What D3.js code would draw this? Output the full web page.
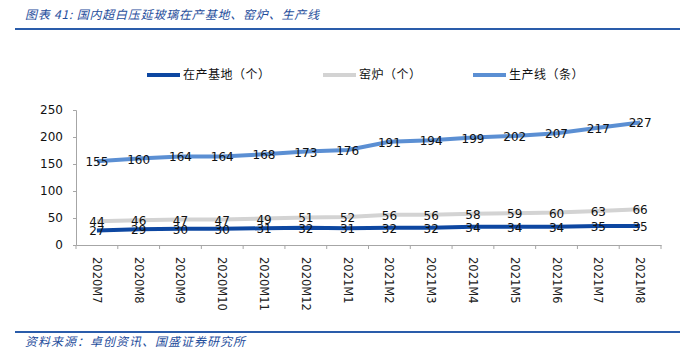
<!DOCTYPE html>
<html>
<head>
<meta charset="utf-8">
<script src="https://cdn.jsdelivr.net/npm/d3@7/dist/d3.min.js"></script>
<style>
  body { margin: 0; background: #fff; }
  text { font-family: "DejaVu Sans", Verdana, sans-serif; }
  .cjk { font-family: "Noto Sans CJK SC", sans-serif; }
</style>
</head>
<body>
<div id="chart"></div>
<script>
'use strict';

const months = ["2020M7", "2020M8", "2020M9", "2020M10", "2020M11", "2020M12",
    "2021M1", "2021M2", "2021M3", "2021M4", "2021M5", "2021M6", "2021M7", "2021M8"];
const bases = [27, 29, 30, 30, 31, 32, 31, 32, 32, 34, 34, 34, 35, 35];
const kilns = [44, 46, 47, 47, 49, 51, 52, 56, 56, 58, 59, 60, 63, 66];
const lines = [155, 160, 164, 164, 168, 173, 176, 191, 194, 199, 202, 207, 217, 227];
const yTicks = [0, 50, 100, 150, 200, 250];

const series = [
    { name: "在产基地（个）", values: bases, color: "#0d47a1" },
    { name: "窑炉（个）", values: kilns, color: "#d3d3d3" },
    { name: "生产线（条）", values: lines, color: "#5b8fd3" }
];

const width = 690;
const height = 364;
const margin = { top: 110, bottom: 119, left: 76, right: 29 };

const svg = d3.select("#chart")
    .append("svg")
    .attr("width", width)
    .attr("height", height);

// title + rules
svg.append("text")
    .attr("class", "cjk")
    .attr("x", 25)
    .attr("y", 19)
    .attr("font-size", 12)
    .attr("font-style", "italic")
    .attr("letter-spacing", 0.8)
    .attr("fill", "#1f4e9c")
    .text("图表 41:  国内超白压延玻璃在产基地、窑炉、生产线");

svg.append("line")
    .attr("x1", 15).attr("x2", 680)
    .attr("y1", 29).attr("y2", 29)
    .attr("stroke", "#2a5caa")
    .attr("stroke-width", 2);

svg.append("line")
    .attr("x1", 15).attr("x2", 680)
    .attr("y1", 332).attr("y2", 332)
    .attr("stroke", "#2a5caa")
    .attr("stroke-width", 2);

svg.append("text")
    .attr("class", "cjk")
    .attr("x", 25)
    .attr("y", 346)
    .attr("font-size", 12)
    .attr("font-style", "italic")
    .attr("letter-spacing", 1)
    .attr("fill", "#1f4e9c")
    .text("资料来源：卓创资讯、国盛证券研究所");

const xScale = d3.scaleBand()
    .domain(months)
    .range([margin.left, width - margin.right]);

const yScale = d3.scaleLinear()
    .domain([0, 250])
    .range([height - margin.bottom, margin.top]);

// axes
const xAxis = d3.axisBottom(xScale).tickSize(0).tickFormat("");
const gx = svg.append("g")
    .attr("transform", `translate(0, ${yScale(0)})`)
    .call(xAxis);
gx.select(".domain").attr("stroke", "#a6a6a6");

// band boundary ticks
svg.append("g")
    .selectAll("line")
    .data(months.map((m, i) => i).concat([months.length]))
    .join("line")
    .attr("x1", i => margin.left + i * xScale.step())
    .attr("x2", i => margin.left + i * xScale.step())
    .attr("y1", yScale(0))
    .attr("y2", yScale(0) + 4)
    .attr("stroke", "#a6a6a6");

svg.append("g")
    .selectAll("text")
    .data(months)
    .join("text")
    .attr("transform", d => `translate(${xScale(d) + xScale.bandwidth() / 2 - 4}, ${yScale(0) + 12}) rotate(90)`)
    .attr("font-size", 11.5)
    .attr("fill", "#222")
    .text(d => d);

const yAxis = d3.axisLeft(yScale).tickValues(yTicks).tickSize(3).tickPadding(10);
const gy = svg.append("g")
    .attr("transform", `translate(${margin.left}, 0)`)
    .call(yAxis);
gy.select(".domain").attr("stroke", "#a6a6a6");
gy.selectAll(".tick line").attr("stroke", "#a6a6a6");
gy.selectAll(".tick text")
    .attr("font-size", 12)
    .attr("font-family", "DejaVu Sans, sans-serif")
    .attr("fill", "#111");

// lines
const line = d3.line()
    .x((d, i) => xScale(months[i]) + xScale.bandwidth() / 2)
    .y(d => yScale(d));

svg.append("g")
    .selectAll("path")
    .data(series)
    .join("path")
    .attr("d", d => line(d.values))
    .attr("fill", "none")
    .attr("stroke", d => d.color)
    .attr("stroke-width", 4);

// data labels
series.forEach(s => {
    svg.append("g")
        .selectAll("text")
        .data(s.values)
        .join("text")
        .attr("x", (d, i) => xScale(months[i]) + xScale.bandwidth() / 2)
        .attr("y", d => yScale(d) + 5)
        .attr("text-anchor", "middle")
        .attr("font-size", 12)
        .attr("fill", "#111")
        .text(d => d);
});

// legend
const legendX = [147, 323, 473];
const legend = svg.append("g")
    .selectAll("g")
    .data(series)
    .join("g")
    .attr("transform", (d, i) => `translate(${legendX[i]}, 75)`);

legend.append("line")
    .attr("x1", 0).attr("x2", 33)
    .attr("stroke", d => d.color)
    .attr("stroke-width", 4);

legend.append("text")
    .attr("class", "cjk")
    .attr("x", 36)
    .attr("y", 4)
    .attr("font-size", 12)
    .attr("letter-spacing", 0.5)
    .attr("fill", "#111")
    .text(d => d.name);
</script>
</body>
</html>
